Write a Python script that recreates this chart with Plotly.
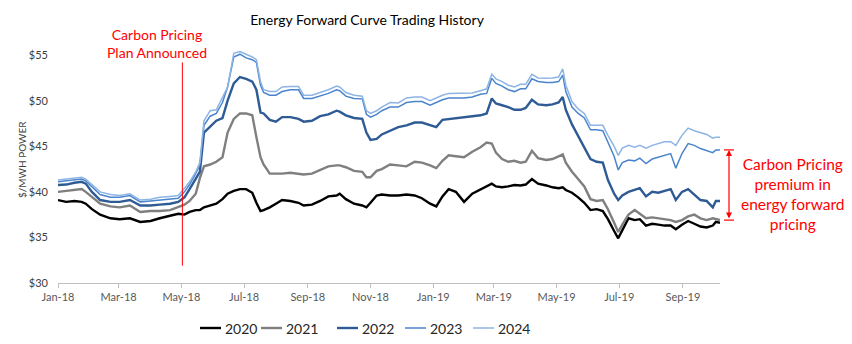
import plotly.graph_objects as go

# Trading dates of the forward-curve snapshots
dates = [
    "2018-01-01", "2018-01-09", "2018-01-17", "2018-01-24", "2018-01-28", "2018-02-03", "2018-02-11", "2018-02-21",
    "2018-03-02", "2018-03-12", "2018-03-22", "2018-04-01", "2018-04-10", "2018-04-20", "2018-04-28", "2018-05-04",
    "2018-05-09", "2018-05-15", "2018-05-19", "2018-05-23", "2018-05-29", "2018-06-04", "2018-06-10", "2018-06-15",
    "2018-06-21", "2018-06-27", "2018-07-03", "2018-07-09", "2018-07-13", "2018-07-17", "2018-07-20", "2018-07-26",
    "2018-08-01", "2018-08-07", "2018-08-15", "2018-08-23", "2018-08-28", "2018-09-05", "2018-09-13", "2018-09-21",
    "2018-09-29", "2018-10-02", "2018-10-08", "2018-10-16", "2018-10-24", "2018-10-28", "2018-11-01", "2018-11-07",
    "2018-11-12", "2018-11-20", "2018-11-28", "2018-12-06", "2018-12-14", "2018-12-21", "2018-12-29", "2019-01-04",
    "2019-01-10", "2019-01-16", "2019-01-23", "2019-01-31", "2019-02-08", "2019-02-16", "2019-02-22", "2019-02-27",
    "2019-03-03", "2019-03-09", "2019-03-15", "2019-03-21", "2019-03-27", "2019-04-01", "2019-04-07", "2019-04-13",
    "2019-04-21", "2019-04-27", "2019-05-03", "2019-05-07", "2019-05-10", "2019-05-16", "2019-05-22", "2019-05-28",
    "2019-06-03", "2019-06-09", "2019-06-15", "2019-06-20", "2019-06-26", "2019-06-30", "2019-07-04", "2019-07-10",
    "2019-07-16", "2019-07-21", "2019-07-27", "2019-08-02", "2019-08-08", "2019-08-14", "2019-08-20", "2019-08-25",
    "2019-08-31", "2019-09-06", "2019-09-12", "2019-09-18", "2019-09-24", "2019-09-30", "2019-10-03", "2019-10-07",
]

# Forward prices ($/MWh) for each calendar-year strip
s2020 = [
    39.1, 38.9, 39.0, 38.9, 38.7, 38.1, 37.5, 37.1, 37.0, 37.1,
    36.7, 36.8, 37.1, 37.4, 37.6, 37.5, 37.8, 38.0, 38.0, 38.3,
    38.5, 38.7, 39.2, 39.8, 40.1, 40.3, 40.3, 39.9, 38.8, 37.9,
    38.0, 38.3, 38.7, 39.1, 39.0, 38.8, 38.5, 38.6, 39.0, 39.5,
    39.6, 39.8, 39.2, 38.7, 38.5, 38.3, 38.8, 39.6, 39.7, 39.6,
    39.6, 39.7, 39.6, 39.3, 38.7, 38.4, 39.5, 40.3, 40.0, 38.9,
    39.8, 40.3, 40.6, 40.9, 40.6, 40.5, 40.6, 40.75, 40.7, 40.8,
    41.4, 40.9, 40.7, 40.5, 40.4, 40.5, 40.2, 39.9, 39.4, 38.8,
    38.0, 38.1, 37.9, 37.0, 35.7, 34.9, 35.8, 37.1, 36.9, 37.0,
    36.3, 36.5, 36.4, 36.3, 36.3, 35.9, 36.4, 36.8, 36.5, 36.2,
    36.1, 36.3, 36.7, 36.6,
]
s2021 = [
    40.0, 40.1, 40.2, 40.3, 40.0, 39.4, 38.7, 38.4, 38.3, 38.5,
    37.8, 37.9, 37.9, 38.0, 38.3, 38.6, 39.0, 39.8, 41.5, 42.8,
    43.0, 43.3, 43.8, 46.5, 48.0, 48.6, 48.6, 48.4, 46.0, 43.8,
    43.0, 42.0, 42.0, 42.0, 42.1, 42.0, 41.9, 42.0, 42.4, 42.8,
    42.9, 42.9, 42.7, 42.3, 42.2, 41.6, 41.6, 42.3, 42.5, 43.0,
    42.9, 42.8, 43.3, 43.2, 42.9, 42.6, 43.4, 44.0, 43.9, 43.8,
    44.4, 44.9, 45.4, 45.3, 44.3, 43.6, 43.3, 43.4, 43.2, 43.3,
    44.5, 43.7, 43.5, 43.6, 43.9, 44.1, 43.2, 42.2, 41.4, 40.6,
    39.2, 39.0, 39.1, 38.1, 36.6, 35.6, 36.4, 37.5, 38.0, 37.6,
    37.1, 37.2, 37.1, 37.0, 36.9, 36.7, 36.9, 37.3, 37.5, 37.1,
    36.9, 37.1, 37.0, 36.9,
]
s2022 = [
    40.75, 40.8, 41.0, 41.1, 40.9, 40.0, 39.1, 38.9, 38.9, 39.1,
    38.5, 38.5, 38.6, 38.7, 38.9, 39.4, 40.3, 41.5, 42.2, 46.5,
    47.1, 47.8, 48.1, 50.0, 51.9, 52.6, 52.4, 52.1, 51.2, 48.7,
    48.6, 47.9, 47.7, 48.2, 48.2, 48.0, 47.7, 47.8, 48.3, 48.5,
    48.9, 48.8, 48.4, 48.1, 48.0, 46.5, 45.7, 45.8, 46.3, 46.7,
    47.1, 47.3, 47.6, 47.6, 47.3, 47.1, 47.9, 48.0, 48.1, 48.2,
    48.3, 48.4, 48.6, 50.25, 49.7, 49.5, 49.3, 49.0, 49.0, 49.2,
    50.1, 49.6, 49.5, 49.6, 49.8, 50.4, 49.0, 47.4, 46.1, 44.8,
    43.6, 43.3, 43.2, 41.3, 39.8, 39.1, 39.6, 40.0, 40.2, 40.4,
    39.5, 40.0, 39.9, 40.1, 40.3, 39.1, 40.0, 40.3, 39.7, 39.1,
    39.0, 38.3, 39.0, 39.0,
]
s2023 = [
    41.1, 41.2, 41.3, 41.4, 41.2, 40.6, 39.7, 39.4, 39.4, 39.6,
    38.9, 39.0, 39.1, 39.2, 39.3, 40.0, 40.8, 42.0, 43.0, 47.3,
    48.3, 48.6, 49.8, 51.5, 54.8, 55.1, 54.7, 54.5, 54.2, 51.7,
    50.9, 50.6, 50.6, 51.0, 51.2, 51.2, 50.25, 50.25, 50.5, 50.8,
    51.2, 51.1, 50.5, 50.25, 50.2, 48.5, 48.2, 48.5, 48.9, 49.3,
    49.3, 49.8, 49.9, 49.9, 49.5, 49.8, 50.1, 50.3, 50.3, 50.3,
    50.4, 50.7, 50.8, 52.45, 51.9, 51.6, 51.2, 51.0, 51.3, 51.3,
    52.4, 52.1, 52.0, 52.0, 52.1, 52.8, 51.0, 49.3, 48.6, 48.1,
    46.8, 46.8, 46.7, 45.5, 43.9, 42.4, 43.2, 43.5, 43.4, 43.7,
    43.1, 43.6, 43.8, 44.0, 44.2, 42.6, 44.2, 45.3, 45.1, 44.75,
    44.5, 44.3, 44.6, 44.6,
]
s2024 = [
    41.3, 41.4, 41.5, 41.6, 41.4, 40.8, 40.0, 39.7, 39.6, 39.8,
    39.1, 39.2, 39.4, 39.5, 39.6, 40.4, 41.1, 42.2, 43.2, 47.8,
    48.9, 49.0, 50.3, 51.5, 55.2, 55.4, 55.1, 54.8, 54.5, 52.1,
    51.2, 51.0, 51.0, 51.5, 51.55, 51.55, 50.6, 50.6, 50.9, 51.2,
    51.6, 51.5, 50.9, 50.6, 50.5, 48.9, 48.6, 48.9, 49.3, 49.8,
    49.75, 50.3, 50.4, 50.4, 50.0, 50.3, 50.6, 50.8, 50.8, 50.8,
    50.85, 51.1, 51.3, 52.9, 52.4, 52.1, 51.7, 51.5, 51.8, 51.8,
    52.9, 52.5, 52.45, 52.5, 52.6, 53.5, 51.7, 49.9, 49.1, 48.6,
    47.3, 47.3, 47.3, 46.2, 45.0, 44.0, 44.8, 45.1, 44.9, 45.1,
    44.8, 45.1, 45.3, 45.5, 45.5, 45.1, 46.2, 47.0, 46.7, 46.5,
    46.3, 45.9, 46.0, 46.0,
]

series_names = ["2020", "2021", "2022", "2023", "2024"]
series_values = [s2020, s2021, s2022, s2023, s2024]

x_tick_dates = ["2018-01-01", "2018-03-01", "2018-05-01", "2018-07-01", "2018-09-01", "2018-11-01",
                "2019-01-01", "2019-03-01", "2019-05-01", "2019-07-01", "2019-09-01"]
x_tick_labels = ["Jan-18", "Mar-18", "May-18", "Jul-18", "Sep-18", "Nov-18",
                 "Jan-19", "Mar-19", "May-19", "Jul-19", "Sep-19"]
y_tick_values = [30, 35, 40, 45, 50, 55]
y_tick_labels = ["$30", "$35", "$40", "$45", "$50", "$55"]

announcement_date = "2018-05-02"

colors = ["#000000", "#7f7f7f", "#2f5b95", "#4a84cc", "#8db4e3"]
widths = [2.4, 2.4, 2.4, 1.5, 1.5]
FONT = "Lato, 'Open Sans', sans-serif"
RED = "#ff0000"

fig = go.Figure()
for name, vals, col, w in zip(series_names, series_values, colors, widths):
    fig.add_trace(go.Scatter(x=dates, y=vals, mode="lines", name=name,
                             line=dict(color=col, width=w), showlegend=False))

# Plot area spans x 58..720 px, y 46..283 px
L, R, T, B, W, H = 58, 132, 46, 61, 852, 344
pw, ph = W - L - R, H - T - B


def px_x(px):
    return (px - L) / pw


def px_y(py):
    return (H - B - py) / ph


top_val = s2023[-1]
bot_val = s2021[-1]
bx = px_x(729)

fig.update_layout(
    width=W, height=H,
    margin=dict(l=L, r=R, t=T, b=B, autoexpand=False),
    paper_bgcolor="white", plot_bgcolor="white",
    font=dict(family=FONT, color="#404040"),
    title=dict(text="Energy Forward Curve Trading History",
               font=dict(family=FONT, size=14, color="#000000"),
               x=367 / W, xref="container", xanchor="center",
               y=1 - 20 / H, yref="container", yanchor="middle"),
    xaxis=dict(type="date", range=[dates[0], dates[-1]],
               tickvals=x_tick_dates, ticktext=x_tick_labels,
               showgrid=False, zeroline=False,
               showline=True, linecolor="#bfbfbf", linewidth=1.25,
               ticks="outside", ticklen=4, tickcolor="#bfbfbf", tickwidth=1,
               tickfont=dict(family=FONT, size=11, color="#595959")),
    yaxis=dict(range=[30, 56], tickvals=y_tick_values, ticktext=y_tick_labels,
               showgrid=False, zeroline=False, showline=False, ticks="",
               ticklabelstandoff=9,
               tickfont=dict(family=FONT, size=11, color="#404040")),
    showlegend=False,
)

# Legend row below the axis: short line sample followed by the series name
legend_starts = [200, 261, 337, 405, 473]
legend_y = px_y(328)
for name, col, w, x0 in zip(series_names, colors, widths, legend_starts):
    fig.add_shape(type="line", xref="paper", yref="paper",
                  x0=px_x(x0), x1=px_x(x0 + 21), y0=legend_y, y1=legend_y,
                  line=dict(color=col, width=w))
    fig.add_annotation(text=name, xref="paper", yref="paper",
                       x=px_x(x0 + 23), y=legend_y, xanchor="left", yanchor="middle",
                       showarrow=False, font=dict(family=FONT, size=14, color="#262626"))

# Announcement marker
fig.add_shape(type="line", xref="x", yref="y",
              x0=announcement_date, x1=announcement_date, y0=31.9, y1=54.2,
              line=dict(color=RED, width=1))
fig.add_annotation(text="Carbon Pricing<br>Plan Announced", xref="paper", yref="paper",
                   x=px_x(157), y=px_y(43.5), xanchor="center", yanchor="middle",
                   showarrow=False, font=dict(family=FONT, size=14, color=RED))

# Y axis title
fig.add_annotation(text="$/MWH POWER", xref="paper", yref="paper",
                   x=px_x(22), y=px_y(160), textangle=-90,
                   xanchor="center", yanchor="middle", showarrow=False,
                   font=dict(family=FONT, size=10, color="#404040"))

# Premium bracket between the 2023 and 2021 strips at the latest date
fig.add_annotation(text="", xref="paper", yref="y", x=bx, y=top_val,
                   axref="pixel", ayref="y", ax=0, ay=bot_val,
                   showarrow=True, arrowside="end+start", arrowhead=2,
                   arrowsize=1, arrowwidth=1.2, arrowcolor=RED)
for v in (top_val, bot_val):
    fig.add_shape(type="line", xref="paper", yref="y",
                  x0=px_x(724), x1=px_x(734), y0=v, y1=v,
                  line=dict(color=RED, width=1.2))
fig.add_annotation(text="Carbon Pricing<br>premium in<br>energy forward<br>pricing",
                   xref="paper", yref="paper", x=px_x(793), y=px_y(194),
                   xanchor="center", yanchor="middle", align="center",
                   showarrow=False, font=dict(family=FONT, size=15.5, color=RED))

fig.write_html("out.html")
